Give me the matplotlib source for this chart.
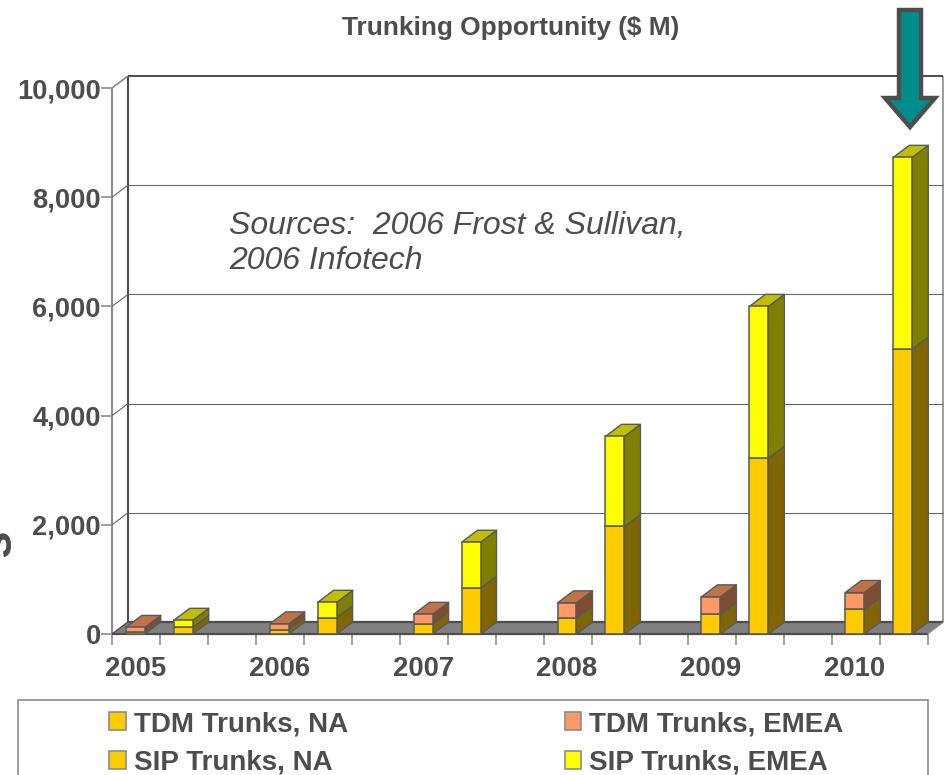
import matplotlib
matplotlib.use("Agg")
import matplotlib.pyplot as plt
from matplotlib.patches import Polygon, Rectangle, Patch
from matplotlib.transforms import Affine2D

plt.rcParams['font.family'] = ['Liberation Sans', 'DejaVu Sans']

years = ['2005', '2006', '2007', '2008', '2009', '2010']
tdm_na = [45, 80, 180, 290, 360, 450]
tdm_emea = [75, 105, 180, 280, 320, 310]
sip_na = [120, 300, 840, 1970, 3220, 5220]
sip_emea = [130, 280, 840, 1650, 2780, 3510]
y_ticks = [0, 2000, 4000, 6000, 8000, 10000]

TXT = '#4D4D4D'
EDGE = '#595959'
DARK = '#4D4D4D'
GRAY = '#8C8C8C'
ORANGE = ('#FFCC00', '#806600', '#BF9900')
SALMON = ('#FF9966', '#804D33', '#BF7348')
YELLOW = ('#FFFF00', '#808000', '#BFBF00')

W, H = 946, 775
fig = plt.figure(figsize=(W / 100, H / 100), dpi=100)
L, R, B, T = 112, 927.5, 634, 88
ax = fig.add_axes([L / W, 1 - B / H, (R - L) / W, (B - T) / H])
ax.set_xlim(0, 17)
ax.set_ylim(0, 10000)
ax.patch.set_visible(False)
for s in ax.spines.values():
    s.set_visible(False)

DX = 16 / 48
DY = 220
BW = 0.395


def poly(pts, fc, ec, lw, z):
    ax.add_patch(Polygon(pts, closed=True, fc=fc, ec=ec, lw=lw, zorder=z,
                         clip_on=False, joinstyle='round'))


def line(xs, ys, c, lw, z):
    ax.plot(xs, ys, color=c, lw=lw, zorder=z, clip_on=False, solid_capstyle='butt')


# walls and gridlines
line([DX, DX], [DY, 10000 + DY], DARK, 1.5, 1)
line([0, 0], [0, 10000], GRAY, 1.5, 1)
line([17 + DX, 17 + DX], [DY, 10000 + DY], GRAY, 1.2, 1)
line([DX, 17 + DX], [10000 + DY] * 2, DARK, 1.4, 1)
for v in y_ticks[1:-1]:
    line([DX, 17 + DX], [v + DY] * 2, '#666666', 0.8, 1)
for v in y_ticks[1:]:
    line([0, DX], [v, v + DY], '#666666', 0.8, 1)
line([0, DX], [10000, 10000 + DY], GRAY, 1.0, 1)

# floor
poly([(0, 0), (17, 0), (17 + DX, DY), (DX, DY)], '#808080', 'none', 0, 2)
line([DX, 17 + DX], [DY, DY], DARK, 1.6, 2)
line([0, 17], [0, 0], DARK, 1.6, 2)
line([17, 17 + DX], [0, DY], GRAY, 1.0, 2)
line([0, DX], [0, DY], DARK, 1.0, 2)


def bar3d(x, lower, upper, lc, uc, z):
    x0, x1 = x - BW / 2, x + BW / 2
    ax.bar(x, lower, width=BW, bottom=0, color=lc[0], edgecolor=EDGE, linewidth=1.1, zorder=z + 0.2, clip_on=False)
    ax.bar(x, upper, width=BW, bottom=lower, color=uc[0], edgecolor=EDGE, linewidth=1.1, zorder=z + 0.2, clip_on=False)
    total = lower + upper
    poly([(x1, 0), (x1 + DX, DY), (x1 + DX, lower + DY), (x1, lower)], lc[1], EDGE, 1.0, z)
    poly([(x1, lower), (x1 + DX, lower + DY), (x1 + DX, total + DY), (x1, total)], uc[1], EDGE, 1.0, z)
    poly([(x0, total), (x0 + DX, total + DY), (x1 + DX, total + DY), (x1, total)], uc[2], EDGE, 1.0, z)


centers = []
for i in range(len(years)):
    xa = 3 * i + 0.485
    xb = 3 * i + 1.485
    centers.append(xa)
    bar3d(xa, tdm_na[i], tdm_emea[i], ORANGE, SALMON, 3 + 2 * i)
    bar3d(xb, sip_na[i], sip_emea[i], ORANGE, YELLOW, 4 + 2 * i)

# axes ticks
ax.set_yticks(y_ticks, labels=[f'{v:,}' for v in y_ticks])
ax.tick_params(axis='y', length=8, width=1.2, color=GRAY, pad=0, labelsize=19.6, labelcolor=TXT)
for t in ax.get_yticklabels():
    t.set_fontweight('bold')
    t.set_y(t.get_position()[1])
ax.set_xticks(range(18), labels=[''] * 18)
ax.tick_params(axis='x', which='major', length=8, width=1.2, color=GRAY)
ax.set_xticks(centers, labels=years, minor=True)
ax.tick_params(axis='x', which='minor', length=0, pad=16, labelsize=19.8, labelcolor=TXT)
for t in ax.get_xticklabels(minor=True):
    t.set_fontweight('bold')

# page texts (pixel placement via figure coordinates)
def ftext(px, py, s, **kw):
    fig.text(px / W, 1 - py / H, s, color=TXT, **kw)


ftext(511, 28.5, 'Trunking Opportunity ($ M)', ha='center', va='center', fontsize=18.9, fontweight='bold')
ftext(229, 226, 'Sources:  2006 Frost & Sullivan,', ha='left', va='center', fontsize=23, style='italic')
ftext(229, 261, '2006 Infotech', ha='left', va='center', fontsize=23, style='italic')
ftext(-3, 543, 's', ha='center', va='center', fontsize=36, fontweight='bold', rotation=90)

# pointer arrow in pixel space
px = Affine2D().scale(1, -1).translate(0, H)
arrow = [(899, 10), (921, 10), (921, 98), (935, 98), (910, 127), (885, 98), (899, 98)]
fig.add_artist(Polygon(arrow, closed=True, fc='#008C8C', ec=DARK, lw=3.2, transform=px,
                       joinstyle='miter', zorder=40))

# legend frame, cut by the image bottom
fig.add_artist(Rectangle((18, 700), 910, 90, fc='white', ec=GRAY, lw=1.2, transform=px, zorder=5))
handles = [Patch(fc=ORANGE[0], ec=GRAY, lw=1.2, label='TDM Trunks, NA'),
           Patch(fc=ORANGE[0], ec=GRAY, lw=1.2, label='SIP Trunks, NA'),
           Patch(fc=SALMON[0], ec=GRAY, lw=1.2, label='TDM Trunks, EMEA'),
           Patch(fc=YELLOW[0], ec=GRAY, lw=1.2, label='SIP Trunks, EMEA')]
leg = fig.legend(handles=handles, ncol=2, frameon=False, loc='upper left',
                 bbox_to_anchor=(109 / W, 1 - 711 / H), borderaxespad=0, borderpad=0,
                 prop={'size': 20, 'weight': 'bold'}, labelcolor=TXT,
                 handlelength=0.6, handleheight=0.6, handletextpad=0.29,
                 columnspacing=7.8, labelspacing=0.46)
leg.set_zorder(6)

fig.savefig('out.png', dpi=100)
